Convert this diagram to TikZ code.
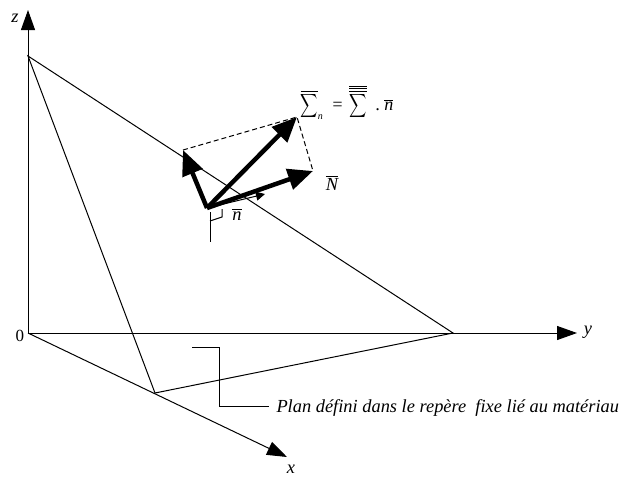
\documentclass[tikz,border=0pt]{standalone}
\usepackage{amsmath}
\usepackage{graphicx}
\usepackage{fontspec}
\setmainfont{Liberation Serif}
\usetikzlibrary{arrows.meta}
\newcommand{\bigsig}{\scalebox{1}[1.37]{$\displaystyle\sum$}}
\begin{document}
\begin{tikzpicture}[x=1pt, y=-1pt, line width=1pt,
    axis/.style={-{Triangle[length=20pt,width=14pt]}},
    vec/.style={line width=4.5pt, -{Triangle[length=25pt,width=21pt]}},
    lbl/.style={inner sep=0pt, font=\fontsize{18.4}{18.4}\selectfont\itshape}]
    \useasboundingbox (0,0) rectangle (620,477);

    % points
    \coordinate (O) at (28,333);
    \coordinate (zend) at (28,10);
    \coordinate (yend) at (577,333);
    \coordinate (xend) at (287,457);
    \coordinate (A) at (28,56);
    \coordinate (B) at (155,393);
    \coordinate (C) at (453,333);
    \coordinate (P) at (207,208);
    \coordinate (S) at (297,117);
    \coordinate (N) at (313,171);
    \coordinate (T) at (183,150);
    \coordinate (nend) at (265,194);

    % draw axes
    \draw[axis] (O) -- (zend);
    \draw[axis] (O) -- (yend);
    \draw[axis] (O) -- (xend);

    % draw plane
    \draw (A) -- (C) -- (B) -- cycle;

    % draw vectors
    \draw[dash pattern=on 5pt off 3pt] (T) -- (S) -- (N);
    \foreach \v in {S,N,T}
      \draw[vec] (P) -- (\v);
    \draw[-{Triangle[length=9pt,width=9pt]}] (P) -- (nend);

    % right angle
    \coordinate (foot) at (210,212);
    \coordinate (footend) at (210,242);
    \coordinate (c1) at (222,209);
    \coordinate (c2) at (222,217);
    \coordinate (c3) at (210,221);
    \draw (foot) -- (footend);
    \draw (c1) -- (c2) -- (c3);

    % leader
    \coordinate (l1) at (192,347);
    \coordinate (l2) at (219,347);
    \coordinate (l3) at (219,406);
    \coordinate (l4) at (269,406);
    \draw (l1) -- (l2) -- (l3) -- (l4);

    % draw nodes
    \node[lbl] (zlabel) at (15,18) {z};
    \node[lbl] (ylabel) at (588,332) {y};
    \node[lbl] (xlabel) at (291,469) {x};
    \node[lbl, font=\fontsize{17}{17}\selectfont] (zero) at (20,336) {0};
    \node[lbl] (nlabel) at (237,214) {$\overline{\mbox{\itshape n}}$};
    \node[lbl] (Nlabel) at (332,183) {$\overline{\mbox{\itshape N}}$};
    \node[lbl, font=\fontsize{12.5}{12.5}\selectfont\itshape, anchor=base west] (stress) at (300,110) {$\overline{\mbox{\bigsig}}_{\mbox{\fontsize{10}{10}\selectfont\itshape n}}\hspace*{8pt}\mbox{\fontsize{18}{18}\selectfont=}\hspace*{6pt}\overline{\overline{\overline{\mbox{\bigsig}}}}\hspace*{9pt}\mbox{\fontsize{18}{18}\selectfont.}\hspace*{4pt}\overline{\mbox{\fontsize{18}{18}\selectfont\itshape n}}$};
    \node[lbl, anchor=base west] (plan) at (276,412) {Plan défini dans le repère\ \ fixe lié au matériau};
\end{tikzpicture}
\end{document}
